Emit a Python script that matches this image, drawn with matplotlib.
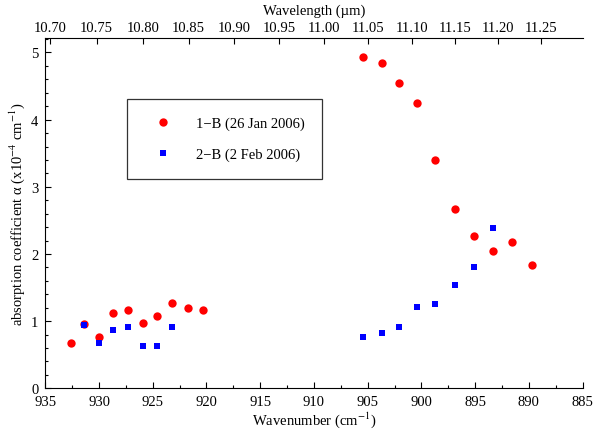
import matplotlib
matplotlib.use("Agg")
import matplotlib.pyplot as plt
from matplotlib.ticker import MultipleLocator, FixedLocator, FormatStrFormatter

plt.rcParams['font.family'] = ['Liberation Serif', 'DejaVu Serif']
plt.rcParams['mathtext.fontset'] = 'stix'

# 1-B (26 Jan 2006)
wn_1b = [932.6, 931.4, 930.0, 928.7, 927.3, 925.9, 924.6, 923.2, 921.7, 920.3,
         905.4, 903.7, 902.1, 900.4, 898.7, 896.9, 895.1, 893.3, 891.6, 889.7]
alpha_1b = [0.67, 0.96, 0.77, 1.12, 1.16, 0.97, 1.08, 1.27, 1.20, 1.16,
            4.93, 4.85, 4.55, 4.25, 3.40, 2.67, 2.27, 2.04, 2.18, 1.83]

# 2-B (2 Feb 2006)
wn_2b = [931.4, 930.0, 928.7, 927.3, 925.9, 924.6, 923.2,
         905.4, 903.7, 902.1, 900.4, 898.7, 896.9, 895.1, 893.3]
alpha_2b = [0.94, 0.67, 0.87, 0.92, 0.63, 0.63, 0.91,
            0.76, 0.82, 0.92, 1.21, 1.26, 1.54, 1.81, 2.38]

top_ticks = [10.70, 10.75, 10.80, 10.85, 10.90, 10.95, 11.00, 11.05, 11.10, 11.15, 11.20, 11.25]

fig = plt.figure(figsize=(6, 4.35), dpi=100)
ax = fig.add_axes([0.0755, 0.105, 0.8955, 0.8045])

ax.plot(wn_1b, alpha_1b, 'o', color='#ff0000', markersize=6, markeredgewidth=0,
        label='1\u2212B (26 Jan 2006)')
ax.plot(wn_2b, alpha_2b, 's', color='#0000ff', markersize=5, markeredgewidth=0,
        label='2\u2212B (2 Feb 2006)')

ax.set_xlim(935, 885)
ax.set_ylim(0, 5.21)
ax.xaxis.set_major_locator(MultipleLocator(5))
ax.xaxis.set_minor_locator(MultipleLocator(2.5))
ax.yaxis.set_major_locator(MultipleLocator(1))
ax.yaxis.set_minor_locator(MultipleLocator(0.2))
ax.tick_params(which='both', direction='in', labelsize=10.5, width=0.8)
ax.tick_params(which='major', length=4)
ax.tick_params(which='minor', length=2.5)
ax.tick_params(axis='x', pad=5)
ax.tick_params(axis='y', pad=5)
ax.spines['right'].set_visible(False)
ax.spines['top'].set_visible(False)

ax.set_xlabel('Wavenumber (cm$^{-1}$)', fontsize=10.5, labelpad=1)
ax.set_ylabel('absorption coefficient \u03b1 (x10$^{-4}$ cm$^{-1}$)', fontsize=10.5, labelpad=3)

# wavelength axis on top (um = 10000 / cm^-1)
sec = ax.secondary_xaxis('top', functions=(lambda x: 1e4 / x, lambda x: 1e4 / x))
sec.xaxis.set_major_locator(FixedLocator(top_ticks))
sec.xaxis.set_minor_locator(FixedLocator([]))
sec.xaxis.set_major_formatter(FormatStrFormatter('%.2f'))
sec.tick_params(direction='in', length=4, width=0.8, labelsize=10.5, pad=3)
sec.set_xlabel('Wavelength (\u00b5m)', fontsize=10.5, labelpad=5)

leg = ax.legend(loc='upper left', bbox_to_anchor=(0.1526, 0.8266), frameon=True,
                fancybox=False, edgecolor='black', fontsize=10.5, handletextpad=1.0,
                borderpad=1.2, labelspacing=1.2, handlelength=2.5, borderaxespad=0)
leg.get_frame().set_linewidth(0.9)

fig.savefig('out.png', dpi=100)
